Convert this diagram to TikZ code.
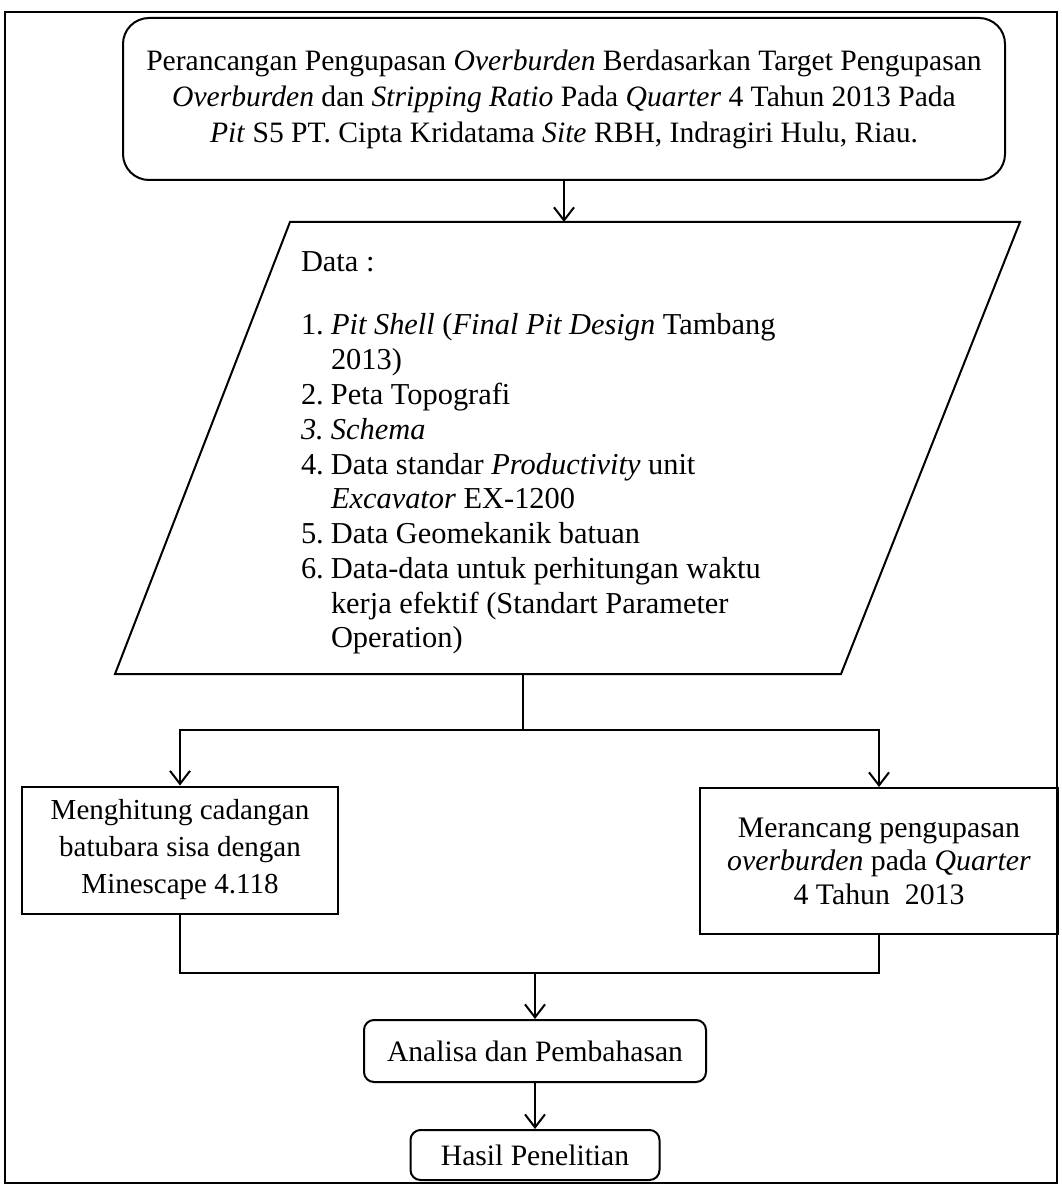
\documentclass[tikz,border=0pt]{standalone}
\usepackage{fontspec}
\setmainfont{Liberation Serif}
\usetikzlibrary{arrows.meta}
\begin{document}
\begin{tikzpicture}[x=0.5pt,y=-0.5pt, line width=1pt,
  arr/.style={-{Straight Barb[length=6.5pt,width=10pt,line width=1pt]}},
  txt/.style={font=\fontsize{14.8}{18}\selectfont, align=center, inner sep=0pt},
  plainbox/.style={draw, txt},
  roundbox/.style={draw, txt, rounded corners=5pt}]
\useasboundingbox (0,0) rectangle (1061,1187);
% outer frame
\draw (5,12) rectangle (1057,1183);
% title
\node[draw, txt, rounded corners=13pt, minimum width=441pt, minimum height=81pt] (title) at (564,99)
 {Perancangan Pengupasan \textit{Overburden} Berdasarkan Target Pengupasan\\
  \textit{Overburden} dan \textit{Stripping Ratio} Pada \textit{Quarter} 4 Tahun 2013 Pada\\
  \textit{Pit} S5 PT. Cipta Kridatama \textit{Site} RBH, Indragiri Hulu, Riau.};
% data parallelogram
\coordinate (p1) at (290,222);
\coordinate (p2) at (1020,222);
\coordinate (p3) at (841,674);
\coordinate (p4) at (115,674);
\draw (p1) -- (p2) -- (p3) -- (p4) -- cycle;
\coordinate (ptop) at (564,222);
\coordinate (pbot) at (523,674);
\node[inner sep=0pt, anchor=base west, font=\fontsize{15.2}{17.4}\selectfont] (data) at (300,272)
 {\begin{tabular}[t]{@{}p{15pt}@{}l@{}}
  \multicolumn{2}{@{}l}{Data :}\\[14pt]
  1. & \textit{Pit Shell} (\textit{Final Pit Design} Tambang\\
     & 2013)\\
  2. & Peta Topografi\\
  \textit{3.} & \textit{Schema}\\
  4. & Data standar \textit{Productivity} unit\\
     & \textit{Excavator} EX-1200\\
  5. & Data Geomekanik batuan\\
  6. & Data-data untuk perhitungan waktu\\
     & kerja efektif (Standart Parameter\\
     & Operation)
  \end{tabular}};
\draw[arr] (title.south) -- (ptop);
% middle boxes
\node[plainbox, font=\fontsize{14.5}{18.5}\selectfont, minimum width=158pt, minimum height=63.5pt] (L) at (180,850)
 {Menghitung cadangan\\ batubara sisa dengan\\ Minescape 4.118};
\node[plainbox, font=\fontsize{14.9}{16.75}\selectfont, minimum width=179pt, minimum height=73pt] (R) at (879,861)
 {Merancang pengupasan\\ \textit{overburden} pada \textit{Quarter}\\ 4 Tahun\ \ 2013};
\coordinate (j1) at (523,730);
\draw (pbot) -- (j1);
\draw[arr] (j1) -| (L.north);
\draw[arr] (j1) -| (R.north);
% bottom
\node[roundbox, minimum width=171pt, minimum height=31pt] (A) at (535,1051) {Analisa dan Pembahasan};
\node[roundbox, minimum width=124.5pt, minimum height=25pt] (H) at (535,1155) {Hasil Penelitian};
\coordinate (j2) at (535,973);
\draw (L.south) |- (j2);
\draw (R.south) |- (j2);
\draw[arr] (j2) -- (A.north);
\draw[arr] (A.south) -- (H.north);
\end{tikzpicture}
\end{document}
